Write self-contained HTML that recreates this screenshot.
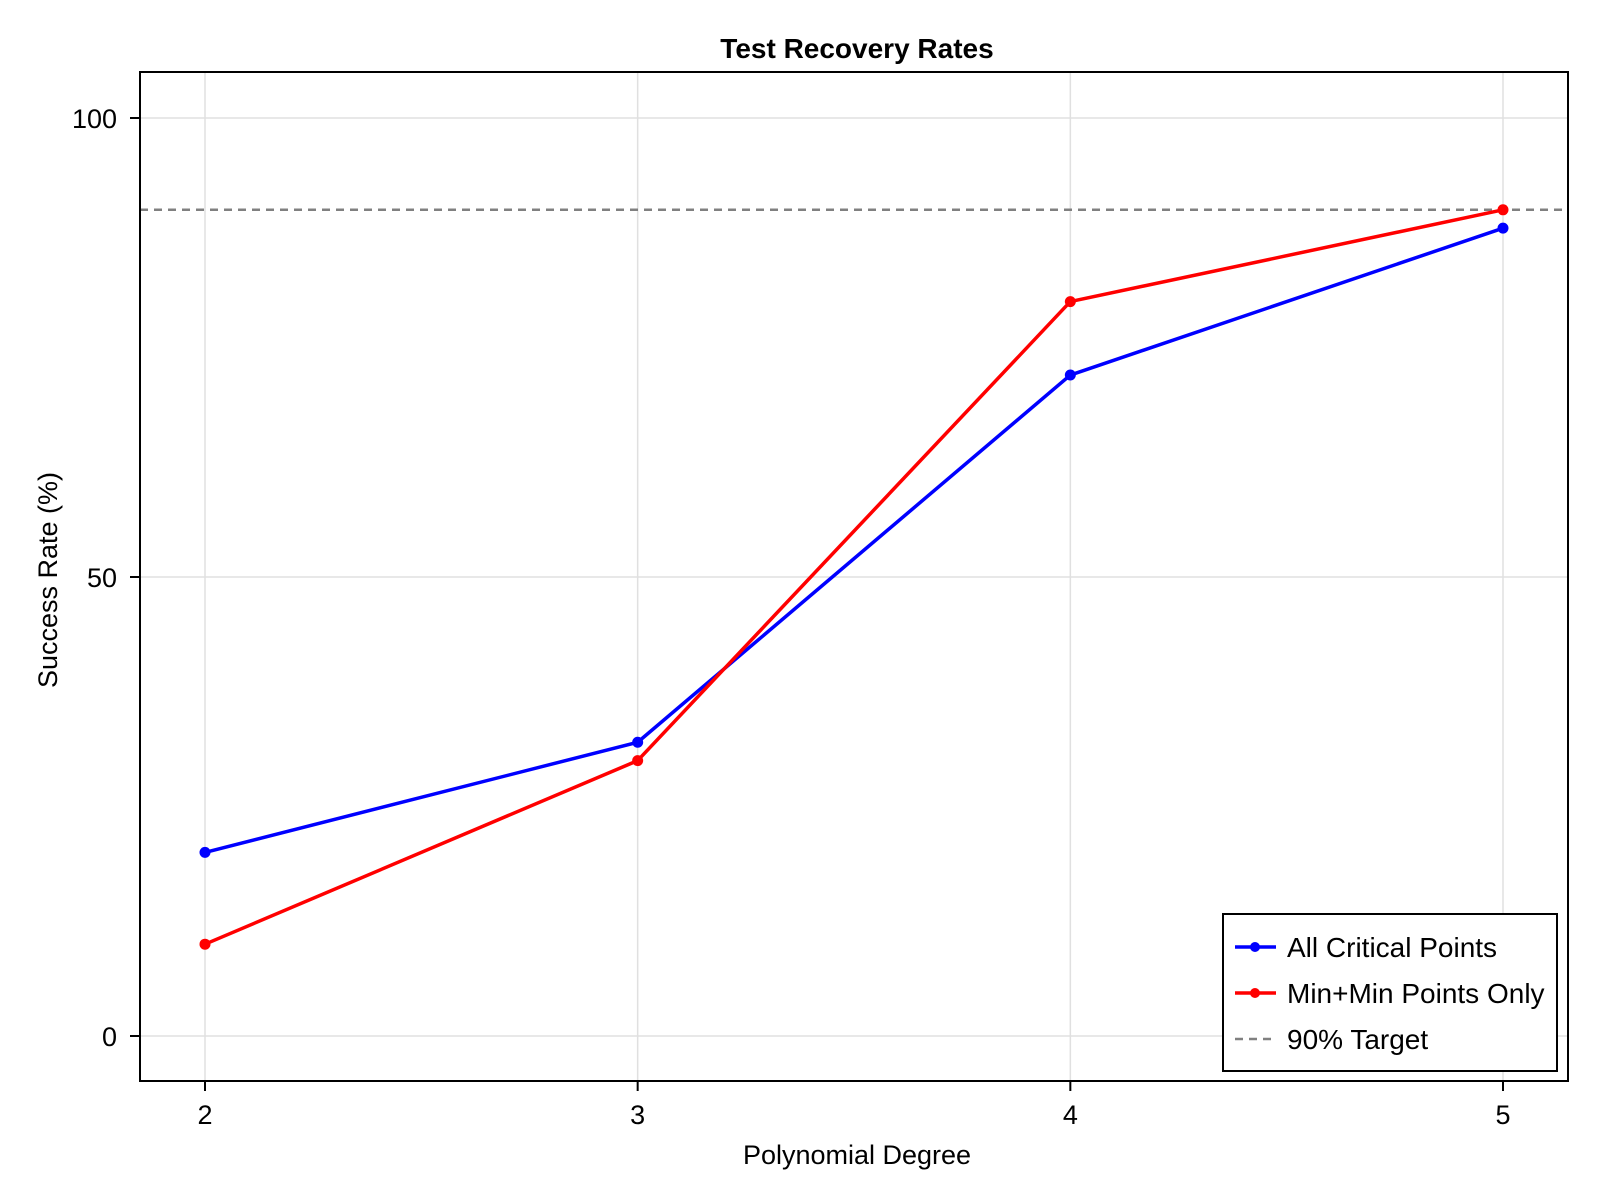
<!DOCTYPE html>
<html><head><meta charset="utf-8"><style>
html,body{margin:0;padding:0;background:#fff}
svg{display:block;font-family:"Liberation Sans",Arial,sans-serif}
</style></head><body>
<svg id="chart" width="1600" height="1200" xmlns="http://www.w3.org/2000/svg">
<rect x="0" y="0" width="1600" height="1200" fill="#fff"/>
<g id="grid"></g>
<g id="series"></g>
<rect x="140" y="72" width="1428" height="1009" fill="none" stroke="#000" stroke-width="2"/>
<g id="axes"></g>
<text x="857" y="58" text-anchor="middle" font-size="28" font-weight="bold">Test Recovery Rates</text>
<text x="857" y="1164" text-anchor="middle" font-size="27">Polynomial Degree</text>
<text transform="translate(57,580) rotate(-90)" text-anchor="middle" font-size="27">Success Rate (%)</text>
<g>
<rect x="1223" y="914" width="334" height="157" fill="#fff" stroke="#000" stroke-width="2"/>
<g>
<line x1="1235" y1="947" x2="1276" y2="947" stroke="#0000ff" stroke-width="3.5"/><circle cx="1255" cy="947" r="5" fill="#0000ff"/>
<text x="1287" y="957" font-size="28">All Critical Points</text></g>
<g>
<line x1="1235" y1="993" x2="1276" y2="993" stroke="#ff0000" stroke-width="3.5"/><circle cx="1255" cy="993" r="5" fill="#ff0000"/>
<text x="1287" y="1003" font-size="28">Min+Min Points Only</text></g>
<g>
<line x1="1235" y1="1039" x2="1276" y2="1039" stroke="#808080" stroke-width="2.5" stroke-dasharray="8,6"/>
<text x="1287" y="1049" font-size="28">90% Target</text></g>
</g>
</svg>
<script>
const degrees = [2, 3, 4, 5];
const allCritical = [20, 32, 72, 88];
const minMin = [10, 30, 80, 90];
const targetValue = [90];
const xTicks = [2, 3, 4, 5];
const yTicks = [0, 50, 100];

const NS = "http://www.w3.org/2000/svg";
function xs(v){ return 205 + (v - 2) * (1503 - 205) / 3; }
function ys(v){ return 1036 - v * (1036 - 118) / 100; }
function mk(tag, attrs, parent){
  const e = document.createElementNS(NS, tag);
  for (const k in attrs) e.setAttribute(k, attrs[k]);
  parent.appendChild(e); return e;
}
const grid = document.getElementById('grid');
const axes = document.getElementById('axes');
const series = document.getElementById('series');
xTicks.forEach(t => {
  const g = mk('line', {x1: xs(t), x2: xs(t), y1: 72, y2: 1081, stroke: '#e0e0e0', 'stroke-width': 1.5}, grid);
  
  
  mk('line', {x1: xs(t), x2: xs(t), y1: 1081, y2: 1091, stroke: '#000', 'stroke-width': 2}, axes);
  const tx = mk('text', {x: xs(t), y: 1124, 'text-anchor': 'middle', 'font-size': 27}, axes);
  tx.textContent = t;
  
  
});
yTicks.forEach(t => {
  const g = mk('line', {x1: 140, x2: 1568, y1: ys(t), y2: ys(t), stroke: '#e0e0e0', 'stroke-width': 1.5}, grid);
  
  
  mk('line', {x1: 130, x2: 140, y1: ys(t), y2: ys(t), stroke: '#000', 'stroke-width': 2}, axes);
  const tx = mk('text', {x: 117, y: ys(t) + 10, 'text-anchor': 'end', 'font-size': 27}, axes);
  tx.textContent = t;
  
  
});
const tl = mk('line', {x1: 140, x2: 1568, y1: ys(targetValue[0]), y2: ys(targetValue[0]), stroke: '#808080', 'stroke-width': 2.5, 'stroke-dasharray': '8,6'}, series);


function drawSeries(vals, color, name){
  const pts = vals.map((v, i) => xs(degrees[i]) + ',' + ys(v)).join(' ');
  const pl = mk('polyline', {points: pts, fill: 'none', stroke: color, 'stroke-width': 3.5, 'stroke-linejoin': 'round'}, series);
  
  
  vals.forEach((v, i) => {
    const c = mk('circle', {cx: xs(degrees[i]), cy: ys(v), r: 5.5, fill: color}, series);
    
    
  });
}
drawSeries(allCritical, '#0000ff', 'all-critical');
drawSeries(minMin, '#ff0000', 'min-min');
</script>
</body></html>
